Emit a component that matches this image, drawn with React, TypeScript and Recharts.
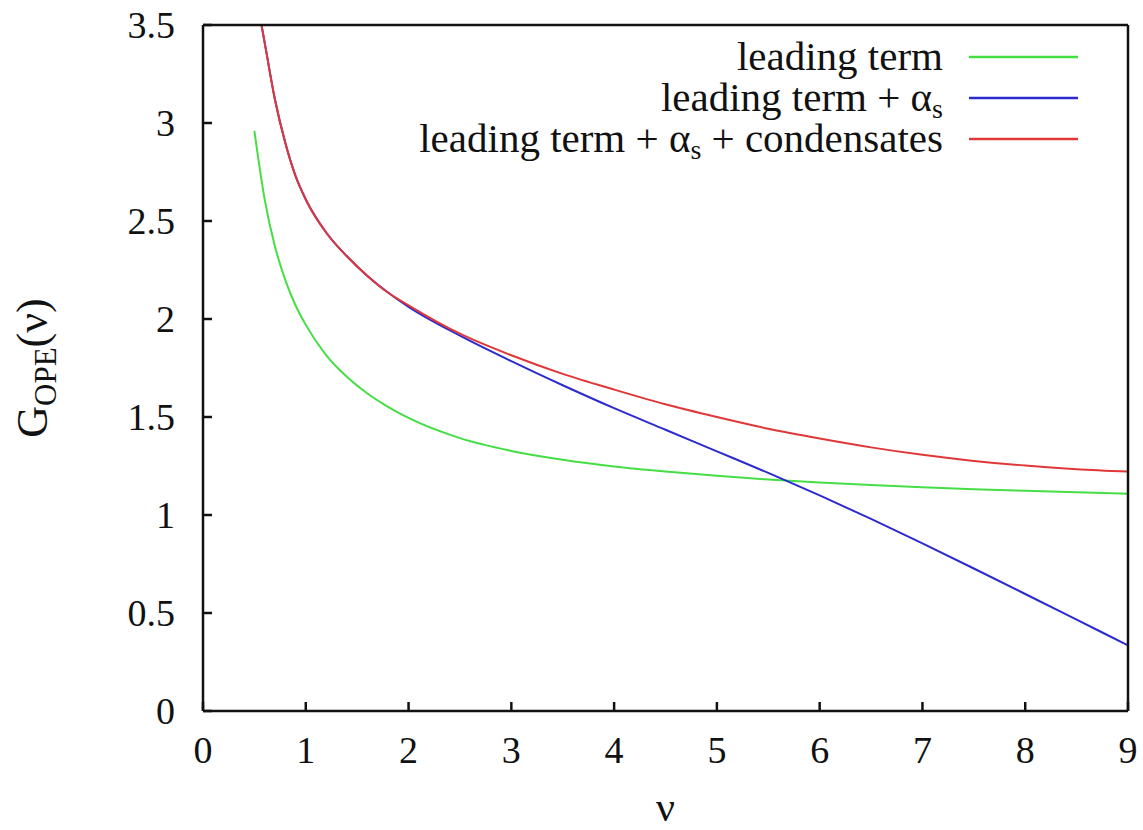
import React from "react";
import { LineChart, Line, XAxis, YAxis, Legend, Label } from "recharts";

// nu grid and the three G_OPE curves
const nuValues = [0.5, 0.6, 0.7, 0.8, 0.9, 1.0, 1.2, 1.4, 1.6, 1.8, 2.0, 2.5, 3, 3.5, 4, 4.5, 5, 5.5, 6, 6.5, 7, 7.5, 8, 8.5, 9];
const leadingTerm = [2.96, 2.61, 2.37, 2.2, 2.07, 1.97, 1.815, 1.705, 1.62, 1.552, 1.495, 1.392, 1.327, 1.282, 1.248, 1.222, 1.2, 1.181, 1.166, 1.153, 1.142, 1.132, 1.124, 1.116, 1.109];
const withAlphaS = [3.7, 3.41, 3.12, 2.9, 2.73, 2.61, 2.44, 2.32, 2.22, 2.135, 2.062, 1.915, 1.785, 1.662, 1.545, 1.435, 1.325, 1.215, 1.1, 0.98, 0.855, 0.727, 0.597, 0.466, 0.335];
const withCondensates = [3.7, 3.41, 3.12, 2.9, 2.73, 2.61, 2.44, 2.32, 2.22, 2.135, 2.07, 1.925, 1.815, 1.72, 1.64, 1.565, 1.5, 1.44, 1.39, 1.345, 1.307, 1.276, 1.252, 1.234, 1.222];

const xTicks = [0, 1, 2, 3, 4, 5, 6, 7, 8, 9];
const yTicks = [0, 0.5, 1, 1.5, 2, 2.5, 3, 3.5];

const GREEN = "#45de45";
const BLUE = "#2b2bd0";
const RED = "#e03838";
const FONT = "'Liberation Serif', 'DejaVu Serif', serif";

const data = nuValues.map((nu, i) => ({
  nu,
  lead: leadingTerm[i],
  alpha: withAlphaS[i],
  cond: withCondensates[i],
}));

const fmtY = (v: number) => (Number.isInteger(v) ? String(v) : v.toFixed(1));

const YTitle = (props: any) => {
  const vb = props.viewBox || {};
  const cy = vb.y + vb.height / 2;
  const x = 47;
  return (
    <text
      x={x}
      y={cy}
      transform={`rotate(-90, ${x}, ${cy})`}
      textAnchor="middle"
      fontFamily={FONT}
      fontSize={44}
      fill="#111"
    >
      G
      <tspan dy={9} fontSize={31}>
        OPE
      </tspan>
      <tspan dy={-9}>(ν)</tspan>
    </text>
  );
};

const rows = [
  { color: GREEN, label: <>leading term</> },
  {
    color: BLUE,
    label: (
      <>
        leading term + α<tspan dy={7} fontSize={28}>s</tspan>
      </>
    ),
  },
  {
    color: RED,
    label: (
      <>
        leading term + α<tspan dy={7} fontSize={28}>s</tspan>
        <tspan dy={-7}> + condensates</tspan>
      </>
    ),
  },
];

// gnuplot style key, right aligned text with a sample line after it
const KeyBox = () => {
  const ox = 380;
  const oy = 20;
  return (
    <svg width={720} height={150} style={{ display: "block" }}>
      {rows.map((r, i) => {
        const ly = 57 + i * 41 - oy;
        return (
          <g key={i}>
            <text
              x={943 - ox}
              y={ly + 13}
              textAnchor="end"
              fontFamily={FONT}
              fontSize={41}
              fill="#111"
              style={{ whiteSpace: "pre" }}
            >
              {r.label}
            </text>
            <line x1={969 - ox} x2={1078 - ox} y1={ly} y2={ly} stroke={r.color} strokeWidth={2.5} />
          </g>
        );
      })}
    </svg>
  );
};

export default function App() {
  const tickStyle = { fontFamily: FONT, fontSize: 38, fill: "#111" };
  return (
    <div style={{ position: "absolute", left: 0, top: 0, background: "#fff" }}>
      <LineChart width={1143} height={830} data={data} margin={{ top: 24, right: 14, bottom: 0, left: 0 }}>
        <XAxis
          xAxisId="x"
          dataKey="nu"
          type="number"
          domain={[0, 9]}
          ticks={xTicks}
          height={119}
          tickSize={-9}
          tickMargin={34}
          tick={tickStyle}
          axisLine={{ stroke: "#111", strokeWidth: 2.5 }}
          tickLine={{ stroke: "#111", strokeWidth: 2.5 }}
        >
          <Label value="ν" position="insideBottom" offset={9} fontFamily={FONT} fontSize={42} fill="#111" />
        </XAxis>
        <XAxis
          xAxisId="top"
          orientation="top"
          dataKey="nu"
          type="number"
          domain={[0, 9]}
          ticks={xTicks}
          height={1}
          tickSize={-9}
          tick={false}
          axisLine={{ stroke: "#111", strokeWidth: 2.5 }}
          tickLine={{ stroke: "#111", strokeWidth: 2.5 }}
        />
        <YAxis
          yAxisId="y"
          type="number"
          domain={[0, 3.5]}
          ticks={yTicks}
          allowDataOverflow
          width={203}
          tickSize={-9}
          tickMargin={37}
          tickFormatter={fmtY}
          tick={tickStyle}
          axisLine={{ stroke: "#111", strokeWidth: 2.5 }}
          tickLine={{ stroke: "#111", strokeWidth: 2.5 }}
        >
          <Label content={<YTitle />} />
        </YAxis>
        <YAxis
          yAxisId="right"
          orientation="right"
          type="number"
          domain={[0, 3.5]}
          ticks={yTicks}
          width={1}
          tickSize={-9}
          tick={false}
          axisLine={{ stroke: "#111", strokeWidth: 2.5 }}
          tickLine={{ stroke: "#111", strokeWidth: 2.5 }}
        />
        <Legend
          layout="vertical"
          align="center"
          verticalAlign="middle"
          content={() => <KeyBox />}
          wrapperStyle={{ left: 380, top: 20, width: 720, height: 150 }}
        />
        <Line xAxisId="x" yAxisId="y" type="monotone" dataKey="lead" name="leading term" stroke={GREEN} strokeWidth={2} dot={false} isAnimationActive={false} />
        <Line xAxisId="x" yAxisId="y" type="monotone" dataKey="alpha" name="leading term + αs" stroke={BLUE} strokeWidth={2} dot={false} isAnimationActive={false} />
        <Line xAxisId="x" yAxisId="y" type="monotone" dataKey="cond" name="leading term + αs + condensates" stroke={RED} strokeWidth={2} dot={false} isAnimationActive={false} />
      </LineChart>
    </div>
  );
}
